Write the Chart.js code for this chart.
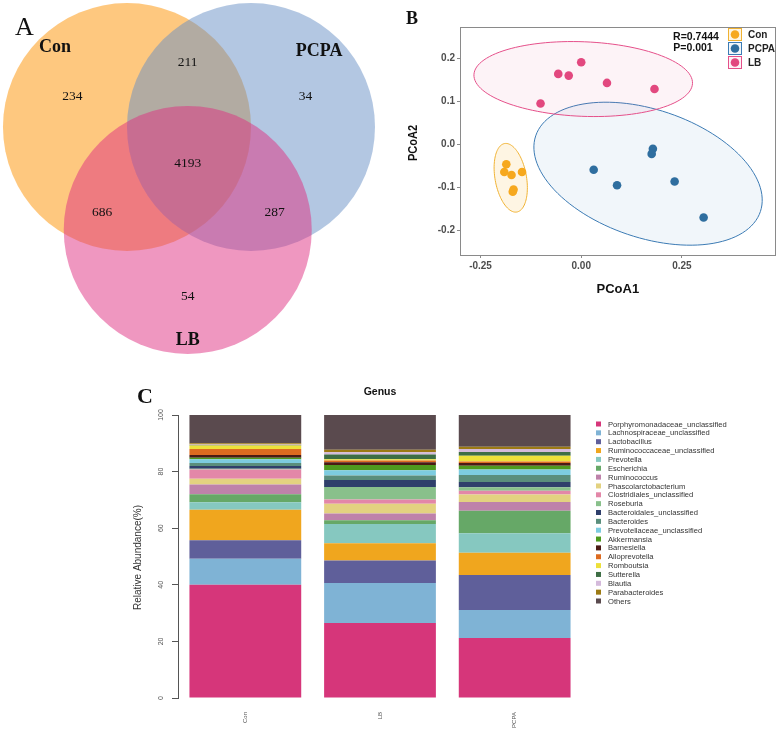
<!DOCTYPE html>
<html>
<head>
<meta charset="utf-8">
<script src="https://cdn.jsdelivr.net/npm/chart.js@4"></script>
<style>
  body { margin: 0; background: #fff; }
  #wrap { position: relative; width: 780px; height: 730px; overflow: hidden; background: #fff; }
  canvas { position: absolute; }
  #venn { left: 0; top: 0; }
  #pcoa { left: 390px; top: 0; }
  #genus { left: 130px; top: 370px; }
</style>
</head>
<body>
<div id="wrap">
  <canvas id="venn" width="390" height="365"></canvas>
  <canvas id="pcoa" width="390" height="305"></canvas>
  <canvas id="genus" width="650" height="360"></canvas>
</div>
<script>
// ---------------- data ----------------
const groups = ['Con', 'PCPA', 'LB'];

// Venn: circle centres in radius units, region counts
const vennCentres = [[0, 0], [1, 0], [0.49, -0.83]];
const vennCounts = [234, 211, 34, 4193, 686, 287, 54];

// PCoA scores
const conX = [-0.186, -0.191, -0.173, -0.147, -0.168, -0.170];
const conY = [-0.046, -0.064, -0.071, -0.064, -0.105, -0.110];
const pcpaX = [0.031, 0.089, 0.178, 0.175, 0.232, 0.304];
const pcpaY = [-0.059, -0.095, -0.010, -0.022, -0.086, -0.170];
const lbX = [-0.101, -0.057, -0.031, 0.000, 0.064, 0.182];
const lbY = [0.095, 0.164, 0.160, 0.191, 0.143, 0.129];
// confidence ellipses: centre + two conjugate semi-axes (data units)
const conEllipse = { c: [-0.175, -0.0775], u: [0.0152, -0.0796], v: [0.0384, 0.0064] };
const pcpaEllipse = { c: [0.166, -0.068], u: [0.279, -0.088], v: [0.0505, 0.141] };
const lbEllipse = { c: [0.005, 0.152], u: [0.2714, -0.0101], v: [0.0036, 0.0866] };
const pcoaXTicks = [-0.25, 0, 0.25];
const pcoaYTicks = [-0.2, -0.1, 0, 0.1, 0.2];
const anosimR = '0.7444';
const anosimP = '0.001';

// Genus relative abundance (%)
const samples = ['Con', 'LB', 'PCPA'];
const genera = ['Porphyromonadaceae_unclassified', 'Lachnospiraceae_unclassified', 'Lactobacillus',
  'Ruminococcaceae_unclassified', 'Prevotella', 'Escherichia', 'Ruminococcus', 'Phascolarctobacterium',
  'Clostridiales_unclassified', 'Roseburia', 'Bacteroidales_unclassified', 'Bacteroides',
  'Prevotellaceae_unclassified', 'Akkermansia', 'Barnesiella', 'Alloprevotella', 'Romboutsia',
  'Sutterella', 'Blautia', 'Parabacteroides', 'Others'];
const conPct = [40.0, 9.2, 6.5, 10.8, 2.7, 2.8, 3.4, 2.1, 3.2, 0.3, 1.0, 1.0, 1.4, 0.5, 1.0, 2.1, 1.2, 0.2, 0.2, 0.4, 10.0];
const lbPct = [26.5, 14.1, 8.0, 6.1, 6.8, 1.3, 2.4, 3.4, 1.5, 4.5, 2.4, 1.6, 1.9, 1.8, 1.0, 0.6, 0.5, 1.6, 0.8, 0.9, 12.3];
const pcpaPct = [21.2, 9.9, 12.4, 7.8, 6.9, 8.0, 3.1, 2.6, 1.3, 1.3, 1.8, 2.5, 1.9, 1.4, 0.9, 0.6, 2.0, 1.3, 1.1, 0.8, 11.2];
const genusTicks = [0, 20, 40, 60, 80, 100];

// ---------------- styles ----------------
const vennFill = ['rgba(253,146,0,0.5)', 'rgba(103,143,197,0.5)', 'rgba(223,48,130,0.5)'];
const vennCountAt = [[-0.44, 0.25], [0.49, 0.52], [1.44, 0.25], [0.49, -0.29], [-0.2, -0.69], [1.19, -0.69], [0.49, -1.37]];
const vennNameAt = [[-0.58, 0.64], [1.55, 0.61], [0.49, -1.72]];
const groupColor = { Con: '#F6A81E', PCPA: '#2F6E9F', LB: '#E2487F' };
const ellStroke = { Con: '#F0B232', PCPA: '#3C7BB4', LB: '#E5508A' };
const ellFill = { Con: 'rgba(246,176,40,0.13)', PCPA: 'rgba(60,123,180,0.07)', LB: 'rgba(229,80,138,0.07)' };
const genusColors = ['#D6367A', '#7FB3D5', '#5F5F9A', '#F0A61E', '#86C8C0', '#66A867', '#BE82AA',
  '#E3D280', '#E387A8', '#89C08B', '#2F3F6B', '#5A8E7C', '#7DCCE0', '#4E9A1E', '#4A1A14',
  '#DD6B20', '#EDE03A', '#3E6E45', '#D4BADB', '#9C7A14', '#5A4A4E'];

const serif = '"Liberation Serif", "DejaVu Serif", serif';
const sans = '"Liberation Sans", Arial, sans-serif';

// ---------------- A: Venn ----------------
const vennText = {
  id: 'vennText',
  afterDatasetsDraw(chart) {
    const { ctx, scales: { x, y } } = chart;
    ctx.save();
    ctx.fillStyle = '#111';
    ctx.textAlign = 'center';
    ctx.textBaseline = 'middle';
    ctx.font = '13.5px ' + serif;
    vennCounts.forEach((n, i) => {
      ctx.fillText(String(n), x.getPixelForValue(vennCountAt[i][0]), y.getPixelForValue(vennCountAt[i][1]));
    });
    ctx.font = 'bold 18px ' + serif;
    groups.forEach((g, i) => {
      ctx.fillText(g, x.getPixelForValue(vennNameAt[i][0]), y.getPixelForValue(vennNameAt[i][1]));
    });
    ctx.textAlign = 'left';
    ctx.textBaseline = 'alphabetic';
    ctx.font = '26px ' + serif;
    ctx.fillText('A', 15, 35);
    ctx.restore();
  }
};

const unitRadius = ctx => {
  const s = ctx.chart.scales.x;
  return s.getPixelForValue(1) - s.getPixelForValue(0);
};

new Chart(document.getElementById('venn'), {
  type: 'scatter',
  data: {
    datasets: groups.map((g, i) => ({
      label: g,
      data: [{ x: vennCentres[i][0], y: vennCentres[i][1] }],
      backgroundColor: vennFill[i],
      borderWidth: 0,
      pointRadius: unitRadius,
      pointHoverRadius: unitRadius,
      order: groups.length - 1 - i,
      clip: false
    }))
  },
  options: {
    responsive: false,
    animation: false,
    events: [],
    layout: { padding: 0 },
    plugins: { legend: { display: false }, tooltip: { enabled: false } },
    scales: {
      x: { type: 'linear', min: -1.024, max: 2.121, display: false },
      y: { type: 'linear', min: -1.919, max: 1.024, display: false }
    }
  },
  plugins: [vennText]
});

// ---------------- B: PCoA ----------------
const ellipseList = [['Con', conEllipse], ['PCPA', pcpaEllipse], ['LB', lbEllipse]];

const pcoaDecor = {
  id: 'pcoaDecor',
  beforeDatasetsDraw(chart) {
    const { ctx, scales: { x, y } } = chart;
    ctx.save();
    ellipseList.forEach(([g, e]) => {
      ctx.beginPath();
      for (let k = 0; k <= 120; k++) {
        const t = k / 120 * Math.PI * 2;
        const dx = e.c[0] + e.u[0] * Math.cos(t) + e.v[0] * Math.sin(t);
        const dy = e.c[1] + e.u[1] * Math.cos(t) + e.v[1] * Math.sin(t);
        const px = x.getPixelForValue(dx), py = y.getPixelForValue(dy);
        if (k === 0) ctx.moveTo(px, py); else ctx.lineTo(px, py);
      }
      ctx.closePath();
      ctx.fillStyle = ellFill[g];
      ctx.fill();
      ctx.strokeStyle = ellStroke[g];
      ctx.lineWidth = 1;
      ctx.stroke();
    });
    ctx.restore();
  },
  afterDraw(chart) {
    const { ctx, chartArea: a } = chart;
    ctx.save();
    ctx.strokeStyle = '#8a8a8a';
    ctx.lineWidth = 1;
    ctx.strokeRect(Math.round(a.left) + 0.5, Math.round(a.top) + 0.5,
      Math.round(a.right - a.left) - 1, Math.round(a.bottom - a.top));

    // panel letter
    ctx.fillStyle = '#111';
    ctx.font = 'bold 18px ' + serif;
    ctx.fillText('B', 16, 24);

    // axis titles
    ctx.fillStyle = '#111';
    ctx.font = 'bold 13px ' + sans;
    ctx.textAlign = 'center';
    ctx.textBaseline = 'middle';
    ctx.fillText('PCoA1', (a.left + a.right) / 2, 289);
    ctx.save();
    ctx.translate(23, (a.top + a.bottom) / 2 + 2);
    ctx.rotate(-Math.PI / 2);
    ctx.scale(0.85, 1.05);
    ctx.fillText('PCoA2', 0, 0);
    ctx.restore();

    // statistics
    ctx.font = 'bold 10.5px ' + sans;
    ctx.fillText('R=' + anosimR, 306, 37);
    ctx.fillText('P=' + anosimP, 303, 48);

    // legend
    ctx.textAlign = 'left';
    chart.data.datasets.forEach((ds, i) => {
      const cy = 34.5 + i * 14;
      const g = ds.label;
      ctx.fillStyle = ellFill[g];
      ctx.fillRect(338.5, cy - 6, 13, 12);
      ctx.strokeStyle = ellStroke[g];
      ctx.strokeRect(338.5, cy - 6, 13, 12);
      ctx.beginPath();
      ctx.arc(345, cy, 4.3, 0, Math.PI * 2);
      ctx.fillStyle = groupColor[g];
      ctx.fill();
      ctx.fillStyle = '#222';
      ctx.font = 'bold 10px ' + sans;
      ctx.fillText(g, 358, cy + 0.5);
    });
    ctx.restore();
  }
};

const pts = (xs, ys) => xs.map((v, i) => ({ x: v, y: ys[i] }));
const tickFontB = { family: sans, size: 10, weight: 'bold' };

new Chart(document.getElementById('pcoa'), {
  type: 'scatter',
  data: {
    datasets: [
      { label: 'Con', data: pts(conX, conY) },
      { label: 'PCPA', data: pts(pcpaX, pcpaY) },
      { label: 'LB', data: pts(lbX, lbY) }
    ].map(d => Object.assign(d, {
      backgroundColor: groupColor[d.label], borderWidth: 0, pointRadius: 4.3, order: 0
    }))
  },
  options: {
    responsive: false,
    animation: false,
    events: [],
    layout: { padding: { left: 0, right: 3, top: 27, bottom: 0 } },
    plugins: { legend: { display: false }, tooltip: { enabled: false } },
    scales: {
      x: {
        type: 'linear', min: -0.301, max: 0.483,
        afterBuildTicks: s => { s.ticks = pcoaXTicks.map(v => ({ value: v })); },
        afterFit: s => { s.height = 50; },
        ticks: { callback: v => v.toFixed(2), font: tickFontB, color: '#4d4d4d', padding: 2, maxRotation: 0 },
        grid: { drawOnChartArea: false, tickLength: 3, color: '#8a8a8a' },
        border: { display: false }
      },
      y: {
        type: 'linear', min: -0.257, max: 0.273,
        afterBuildTicks: s => { s.ticks = pcoaYTicks.map(v => ({ value: v })); },
        afterFit: s => { s.width = 70; },
        ticks: { callback: v => v.toFixed(1), font: tickFontB, color: '#4d4d4d', padding: 2 },
        grid: { drawOnChartArea: false, tickLength: 3, color: '#8a8a8a' },
        border: { display: false }
      }
    }
  },
  plugins: [pcoaDecor]
});

// ---------------- C: genus stacked bars ----------------
const genusDecor = {
  id: 'genusDecor',
  afterDraw(chart) {
    const { ctx, chartArea: a, scales: { x, y } } = chart;
    ctx.save();
    ctx.fillStyle = '#111';
    ctx.font = 'bold 22px ' + serif;
    ctx.fillText('C', 7, 33);

    ctx.textAlign = 'center';
    ctx.textBaseline = 'middle';
    ctx.font = 'bold 10.5px ' + sans;
    ctx.fillText('Genus', 250, 22);

    // y title
    ctx.fillStyle = '#333';
    ctx.font = '10px ' + sans;
    ctx.save();
    ctx.translate(8.5, (a.top + a.bottom) / 2 + 1);
    ctx.rotate(-Math.PI / 2);
    ctx.fillText('Relative Abundance(%)', 0, 0);
    ctx.restore();

    // y tick labels (rotated, R style)
    ctx.fillStyle = '#555';
    ctx.font = '7px ' + sans;
    genusTicks.forEach(v => {
      ctx.save();
      ctx.translate(31, y.getPixelForValue(v));
      ctx.rotate(-Math.PI / 2);
      ctx.fillText(String(v), 0, 0);
      ctx.restore();
    });

    // sample labels
    ctx.font = '6px ' + sans;
    ctx.textAlign = 'right';
    samples.forEach((s, i) => {
      ctx.save();
      ctx.translate(x.getPixelForValue(i), a.bottom + 14);
      ctx.rotate(-Math.PI / 2);
      ctx.fillText(s, 0, 0);
      ctx.restore();
    });

    // legend
    ctx.textAlign = 'left';
    ctx.font = '7.6px ' + sans;
    chart.data.datasets.forEach((ds, i) => {
      const cy = 54 + i * 8.85;
      ctx.fillStyle = ds.backgroundColor;
      ctx.fillRect(466, cy - 2.5, 5, 5);
      ctx.fillStyle = '#333';
      ctx.fillText(ds.label, 478, cy + 0.5);
    });
    ctx.restore();
  }
};

new Chart(document.getElementById('genus'), {
  type: 'bar',
  data: {
    labels: samples,
    datasets: genera.map((g, i) => ({
      label: g,
      data: [conPct[i], lbPct[i], pcpaPct[i]],
      backgroundColor: genusColors[i],
      borderWidth: 0,
      barPercentage: 0.83,
      categoryPercentage: 1
    }))
  },
  options: {
    responsive: false,
    animation: false,
    events: [],
    layout: { padding: { left: 0, right: 198, top: 45, bottom: 32 } },
    plugins: { legend: { display: false }, tooltip: { enabled: false } },
    scales: {
      x: { stacked: true, display: false },
      y: {
        stacked: true, min: 0, max: 100,
        ticks: { display: false, stepSize: 20 },
        afterFit: s => { s.width = 48; },
        grid: { drawOnChartArea: false, tickLength: 6, color: '#555' },
        border: { display: true, color: '#555' }
      }
    }
  },
  plugins: [genusDecor]
});
</script>
</body>
</html>
